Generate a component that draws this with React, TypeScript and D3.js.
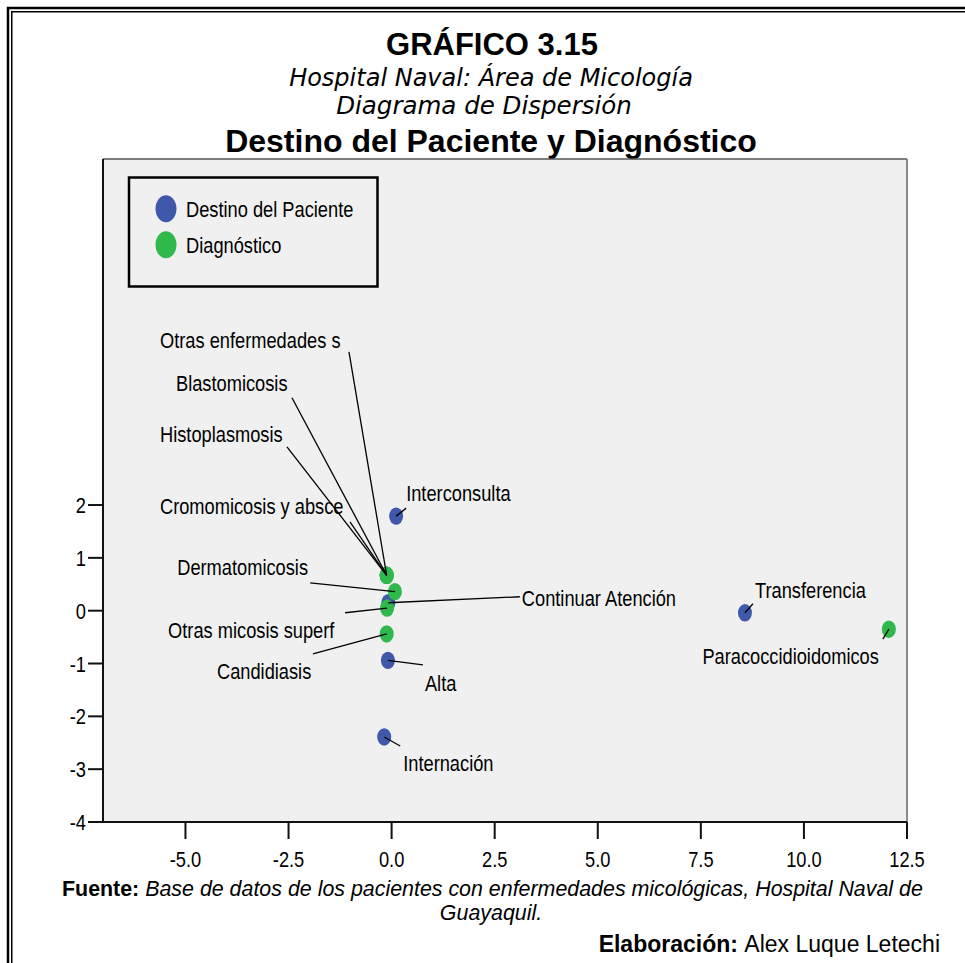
import React from "react";
import * as d3 from "d3";

// ---- Data ----
const destinoNames = ["Interconsulta", "Continuar Atención", "Alta", "Internación", "Transferencia"];
const destinoX = [0.11, -0.08, -0.09, -0.18, 8.57];
const destinoY = [1.79, 0.15, -0.94, -2.39, -0.04];

const diagNames = [
  "Otras enfermedades s",
  "Blastomicosis",
  "Histoplasmosis",
  "Cromomicosis y absce",
  "Dermatomicosis",
  "Otras micosis superf",
  "Candidiasis",
  "Paracoccidioidomicos",
];
const diagX = [-0.12, -0.12, -0.12, -0.12, 0.08, -0.11, -0.12, 12.06];
const diagY = [0.67, 0.67, 0.67, 0.67, 0.36, 0.05, -0.44, -0.35];

const xTicks = [-5.0, -2.5, 0.0, 2.5, 5.0, 7.5, 10.0, 12.5];
const yTicks = [-4, -3, -2, -1, 0, 1, 2];

const seriesNames = ["Destino del Paciente", "Diagnóstico"];

// ---- Layout (label placement offsets in px, relative to point) ----
const labelLayout: Record<string, { lx: number; ly: number; tx: number; ty: number; anchor?: string }> = {
  "Otras enfermedades s": { lx: -37.7, ly: -223.5, tx: -226.7, ty: -235.5 },
  Blastomicosis: { lx: -94.7, ly: -177.5, tx: -210.7, ty: -192.5 },
  Histoplasmosis: { lx: -99.7, ly: -128.5, tx: -226.7, ty: -141.5 },
  "Cromomicosis y absce": { lx: -36.7, ly: -53.5, tx: -226.7, ty: -69.5 },
  Interconsulta: { lx: 10, ly: -8, tx: 10, ty: -23 },
  Dermatomicosis: { lx: -84.7, ly: -8.7, tx: -217.7, ty: -24.7 },
  "Continuar Atención": { lx: 131.5, ly: -6, tx: 133.5, ty: -5 },
  Transferencia: { lx: 8, ly: -9, tx: 10, ty: -23 },
  "Otras micosis superf": { lx: -42, ly: 4.7, tx: -219, ty: 21.7 },
  Paracoccidioidomicos: { lx: -6, ly: 10, tx: -10, ty: 27, anchor: "end" },
  Candidiasis: { lx: -73.7, ly: 20, tx: -169.7, ty: 37 },
  Alta: { lx: 35, ly: 4.5, tx: 37, ty: 22.5 },
  Internación: { lx: 16, ly: 9, tx: 19, ty: 26 },
};

const BLUE = "#3f58aa";
const GREEN = "#2fb84b";
const SANS = "'Liberation Sans', Arial, sans-serif";
const SX = 0.83;

export default function App() {
  const W = 965;
  const H = 963;
  const plot = { l: 103, r: 907, t: 159, b: 822 };
  const x = d3.scaleLinear().domain([-7, 12.5]).range([plot.l, plot.r]);
  const y = d3.scaleLinear().domain([-4, 8.55]).range([plot.b, plot.t]);
  const fmtX = (v: number) => d3.format(".1f")(v).replace("\u2212", "-");

  const blue = destinoNames.map((n, i) => ({ name: n, px: x(destinoX[i]), py: y(destinoY[i]) }));
  const green = diagNames.map((n, i) => ({ name: n, px: x(diagX[i]), py: y(diagY[i]) }));
  const all = [...blue, ...green];

  const label = (txt: string, px: number, py: number, anchor = "start", size = 22, key?: string) => (
    <text
      key={key}
      transform={`translate(${px},${py}) scale(${SX},1)`}
      fontFamily={SANS}
      fontSize={size}
      textAnchor={anchor}
      fill="#000"
    >
      {txt}
    </text>
  );

  return (
    <svg width={W} height={H} style={{ position: "absolute", left: 0, top: 0, background: "#fff" }}>
      {/* frame */}
      <rect x={8} y={8} width={1000} height={1000} fill="none" stroke="#000" strokeWidth={2.5} />
      <rect x={11.75} y={11.75} width={1000} height={1000} fill="none" stroke="#000" strokeWidth={1.5} />

      {/* titles */}
      <text x={492} y={55} textAnchor="middle" fontFamily={SANS} fontWeight="bold" fontSize={31}>
        GRÁFICO 3.15
      </text>
      <text x={491} y={86} textAnchor="middle" fontFamily="'DejaVu Sans', Verdana, sans-serif" fontStyle="italic" fontSize={24}>
        Hospital Naval: Área de Micología
      </text>
      <text x={484} y={114} textAnchor="middle" fontFamily="'DejaVu Sans', Verdana, sans-serif" fontStyle="italic" fontSize={24.5}>
        Diagrama de Dispersión
      </text>
      <text x={491} y={152} textAnchor="middle" fontFamily={SANS} fontWeight="bold" fontSize={32}>
        Destino del Paciente y Diagnóstico
      </text>

      {/* plot area */}
      <rect x={plot.l} y={plot.t} width={plot.r - plot.l} height={plot.b - plot.t} fill="#f0f0f0" />
      <line x1={plot.l} x2={plot.r} y1={plot.t} y2={plot.t} stroke="#555" strokeWidth={1.5} />
      <line x1={plot.r} x2={plot.r} y1={plot.t} y2={plot.b} stroke="#666" strokeWidth={1.5} />
      <line x1={plot.l} x2={plot.l} y1={plot.t} y2={plot.b + 1} stroke="#111" strokeWidth={2} />
      <line x1={plot.l - 1} x2={plot.r} y1={plot.b} y2={plot.b} stroke="#111" strokeWidth={2} />

      {/* y axis ticks */}
      {yTicks.map((t) => (
        <g key={"y" + t}>
          <line x1={plot.l - 15} x2={plot.l} y1={y(t)} y2={y(t)} stroke="#111" strokeWidth={2} />
          {label(String(t), plot.l - 17, y(t) + 8, "end")}
        </g>
      ))}
      {/* x axis ticks */}
      {xTicks.map((t) => (
        <g key={"x" + t}>
          <line x1={x(t)} x2={x(t)} y1={plot.b} y2={plot.b + 17} stroke="#111" strokeWidth={2} />
          {label(fmtX(t), x(t), 867, "middle")}
        </g>
      ))}

      {/* legend */}
      <rect x={129} y={177.5} width={248.5} height={109} fill="none" stroke="#000" strokeWidth={2.5} />
      <ellipse cx={166} cy={208.7} rx={10.5} ry={13.5} fill={BLUE} />
      <ellipse cx={166} cy={244.7} rx={10.5} ry={13.5} fill={GREEN} />
      {label(seriesNames[0], 186, 216.7)}
      {label(seriesNames[1], 186, 252.7)}

      {/* points */}
      {blue.map((p) => (
        <ellipse key={"b" + p.name} cx={p.px} cy={p.py} rx={7} ry={8.7} fill={BLUE} />
      ))}
      {green.map((p) => (
        <ellipse key={"g" + p.name} cx={p.px} cy={p.py} rx={7} ry={8.7} fill={GREEN} />
      ))}

      {/* leader lines & labels */}
      {all.map((p) => {
        const L = labelLayout[p.name];
        return (
          <g key={"l" + p.name}>
            <line x1={p.px} y1={p.py} x2={p.px + L.lx} y2={p.py + L.ly} stroke="#000" strokeWidth={1.3} />
            {label(p.name, p.px + L.tx, p.py + L.ty + 8, L.anchor || "start")}
          </g>
        );
      })}

      {/* footer */}
      <text x={62} y={896} fontFamily={SANS} fontSize={21.4}>
        <tspan fontWeight="bold">Fuente: </tspan>
        <tspan fontStyle="italic">Base de datos de los pacientes con enfermedades micológicas, Hospital Naval de</tspan>
      </text>
      <text x={491} y={920} textAnchor="middle" fontFamily={SANS} fontSize={21.4} fontStyle="italic">
        Guayaquil.
      </text>
      <text x={940} y={952} textAnchor="end" fontFamily={SANS} fontSize={23}>
        <tspan fontWeight="bold">Elaboración: </tspan>
        <tspan>Alex Luque Letechi</tspan>
      </text>
    </svg>
  );
}
